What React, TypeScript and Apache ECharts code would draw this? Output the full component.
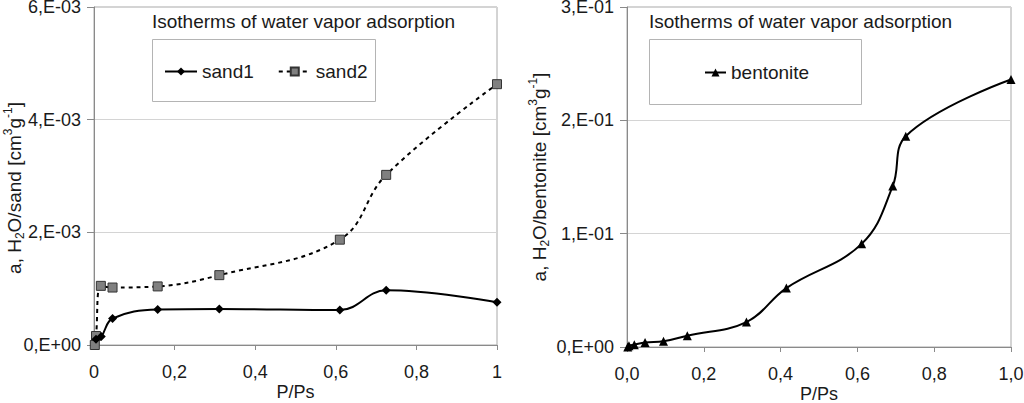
import React, { useEffect, useRef } from "react";
import * as echarts from "echarts";

const titleText = "Isotherms of water vapor adsorption";

const sand1X = [0.005, 0.018, 0.046, 0.158, 0.311, 0.61, 0.725, 1.0];
const sand1Y = [0.0001, 0.00015, 0.00047, 0.00063, 0.00064, 0.00062, 0.00097, 0.00076];

const sand2X = [0.002, 0.005, 0.017, 0.046, 0.158, 0.311, 0.61, 0.725, 1.0];
const sand2Y = [0.0, 0.00016, 0.00105, 0.00102, 0.00104, 0.00124, 0.00187, 0.00302, 0.00463];

const bentX = [0.002, 0.005, 0.019, 0.047, 0.095, 0.157, 0.311, 0.415, 0.611, 0.692, 0.726, 1.0];
const bentY = [0.0, 0.001, 0.002, 0.004, 0.005, 0.01, 0.022, 0.052, 0.091, 0.142, 0.186, 0.236];

const leftYTicks = ["0,E+00", "2,E-03", "4,E-03", "6,E-03"];
const rightYTicks = ["0,E+00", "1,E-01", "2,E-01", "3,E-01"];
const leftXTicks = ["0", "0,2", "0,4", "0,6", "0,8", "1"];
const rightXTicks = ["0,0", "0,2", "0,4", "0,6", "0,8", "1,0"];

const pairs = (xs: number[], ys: number[]) => xs.map((x, i) => [x, ys[i]]);

const FONT = "Liberation Sans";
const TXT = "#1a1a1a";
const AXIS = "#8a8a8a";

function xAxisCfg(gridIndex: number, labels: string[]) {
  return {
    type: "value",
    gridIndex,
    min: 0,
    max: 1,
    interval: 0.2,
    name: "P/Ps",
    nameLocation: "middle",
    nameGap: 38,
    nameMoveOverlap: false,
    nameTextStyle: { fontFamily: FONT, fontSize: 18, lineHeight: 18, color: TXT },
    axisLine: { show: true, lineStyle: { color: AXIS, width: 1 } },
    axisTick: { show: true, length: 5, lineStyle: { color: AXIS } },
    axisLabel: {
      fontFamily: FONT,
      fontSize: 18,
      color: TXT,
      margin: 18,
      formatter: (_v: number, i: number) => labels[i],
    },
    splitLine: { show: false },
  };
}

const richName = {
  sub: { fontFamily: FONT, fontSize: 12, color: TXT, verticalAlign: "bottom", lineHeight: 12 },
  sup: { fontFamily: FONT, fontSize: 12, color: TXT, verticalAlign: "top", lineHeight: 12 },
};

function yAxisCfg(
  gridIndex: number,
  max: number,
  interval: number,
  labels: string[],
  name: string,
  gap: number,
  shift: number
) {
  return {
    type: "value",
    gridIndex,
    min: 0,
    max,
    interval,
    name,
    nameLocation: "middle",
    nameRotate: 90,
    nameGap: gap,
    nameMoveOverlap: false,
    nameTextStyle: {
      fontFamily: FONT,
      fontSize: 19,
      color: TXT,
      lineHeight: 24,
      rich: richName,
      padding: [0, shift, 0, 0],
    },
    axisLine: { show: true, lineStyle: { color: AXIS, width: 1 } },
    axisTick: { show: true, length: 7, lineStyle: { color: AXIS } },
    axisLabel: {
      fontFamily: FONT,
      fontSize: 18,
      lineHeight: 14,
      color: TXT,
      margin: 13,
      formatter: (_v: number, i: number) => labels[i],
    },
    splitLine: { show: true, lineStyle: { color: "#d4d4d4", width: 1 } },
  };
}

export default function App() {
  const ref = useRef<HTMLDivElement>(null);
  useEffect(() => {
    if (!ref.current) return;
    const chart = echarts.init(ref.current, undefined, { renderer: "svg" });
    chart.setOption({
      animation: false,
      backgroundColor: "#ffffff",
      textStyle: { fontFamily: FONT },
      grid: [
        { left: 94, top: 7, width: 403, height: 338, outerBoundsMode: "none", containLabel: false, show: true, borderColor: "#a8a8a8", borderWidth: 1, backgroundColor: "transparent" },
        { left: 627, top: 7, width: 384, height: 340, outerBoundsMode: "none", containLabel: false, show: true, borderColor: "#a8a8a8", borderWidth: 1, backgroundColor: "transparent" },
      ],
      title: [
        { text: titleText, left: 152, top: 12, padding: 0, textStyle: { fontFamily: FONT, fontSize: 19, fontWeight: "normal", color: TXT } },
        { text: titleText, left: 649, top: 12, padding: 0, textStyle: { fontFamily: FONT, fontSize: 19, fontWeight: "normal", color: TXT } },
      ],
      graphic: [
        { type: "rect", shape: { x: 152.5, y: 39.5, width: 223, height: 62 }, style: { fill: "#fff", stroke: "#b4b4b4", lineWidth: 1 }, z: 1 },
        { type: "rect", shape: { x: 649.5, y: 39.5, width: 212, height: 65 }, style: { fill: "#fff", stroke: "#b4b4b4", lineWidth: 1 }, z: 1 },
      ],
      legend: [
        {
          data: ["sand1", "sand2"],
          left: 164,
          top: 62,
          padding: 0,
          itemWidth: 32,
          itemHeight: 10,
          itemGap: 24,
          textStyle: { fontFamily: FONT, fontSize: 19, color: TXT },
          z: 5,
        },
        {
          data: ["bentonite"],
          left: 704,
          top: 63,
          padding: 0,
          itemWidth: 21,
          itemHeight: 10,
          textStyle: { fontFamily: FONT, fontSize: 19, color: TXT },
          z: 5,
        },
      ],
      xAxis: [xAxisCfg(0, leftXTicks), xAxisCfg(1, rightXTicks)],
      yAxis: [
        yAxisCfg(0, 0.006, 0.002, leftYTicks, "a, H{sub|2}O/sand [cm{sup|3}g{sup|-1}]", 68, 24),
        yAxisCfg(1, 0.3, 0.1, rightYTicks, "a, H{sub|2}O/bentonite [cm{sup|3}g{sup|-1}]", 76, 0),
      ],
      series: [
        {
          name: "sand1",
          type: "line",
          xAxisIndex: 0,
          yAxisIndex: 0,
          data: pairs(sand1X, sand1Y),
          smooth: 0.4,
          symbol: "diamond",
          symbolSize: 9,
          lineStyle: { color: "#000", width: 2 },
          itemStyle: { color: "#000" },
          clip: false,
          z: 3,
        },
        {
          name: "sand2",
          type: "line",
          xAxisIndex: 0,
          yAxisIndex: 0,
          data: pairs(sand2X, sand2Y),
          smooth: 0.4,
          symbol: "rect",
          symbolSize: 9,
          lineStyle: { color: "#000", width: 2, type: [4, 4] },
          itemStyle: { color: "#808080", borderColor: "#333", borderWidth: 1 },
          clip: false,
          z: 2,
        },
        {
          name: "bentonite",
          type: "line",
          xAxisIndex: 1,
          yAxisIndex: 1,
          data: pairs(bentX, bentY),
          smooth: 0.4,
          symbol: "triangle",
          symbolSize: 9,
          lineStyle: { color: "#000", width: 2 },
          itemStyle: { color: "#000" },
          clip: false,
        },
      ],
    });
    return () => chart.dispose();
  }, []);
  return (
    <div
      ref={ref}
      style={{ position: "absolute", left: 0, top: 0, width: 1024, height: 403, background: "#fff" }}
    />
  );
}
